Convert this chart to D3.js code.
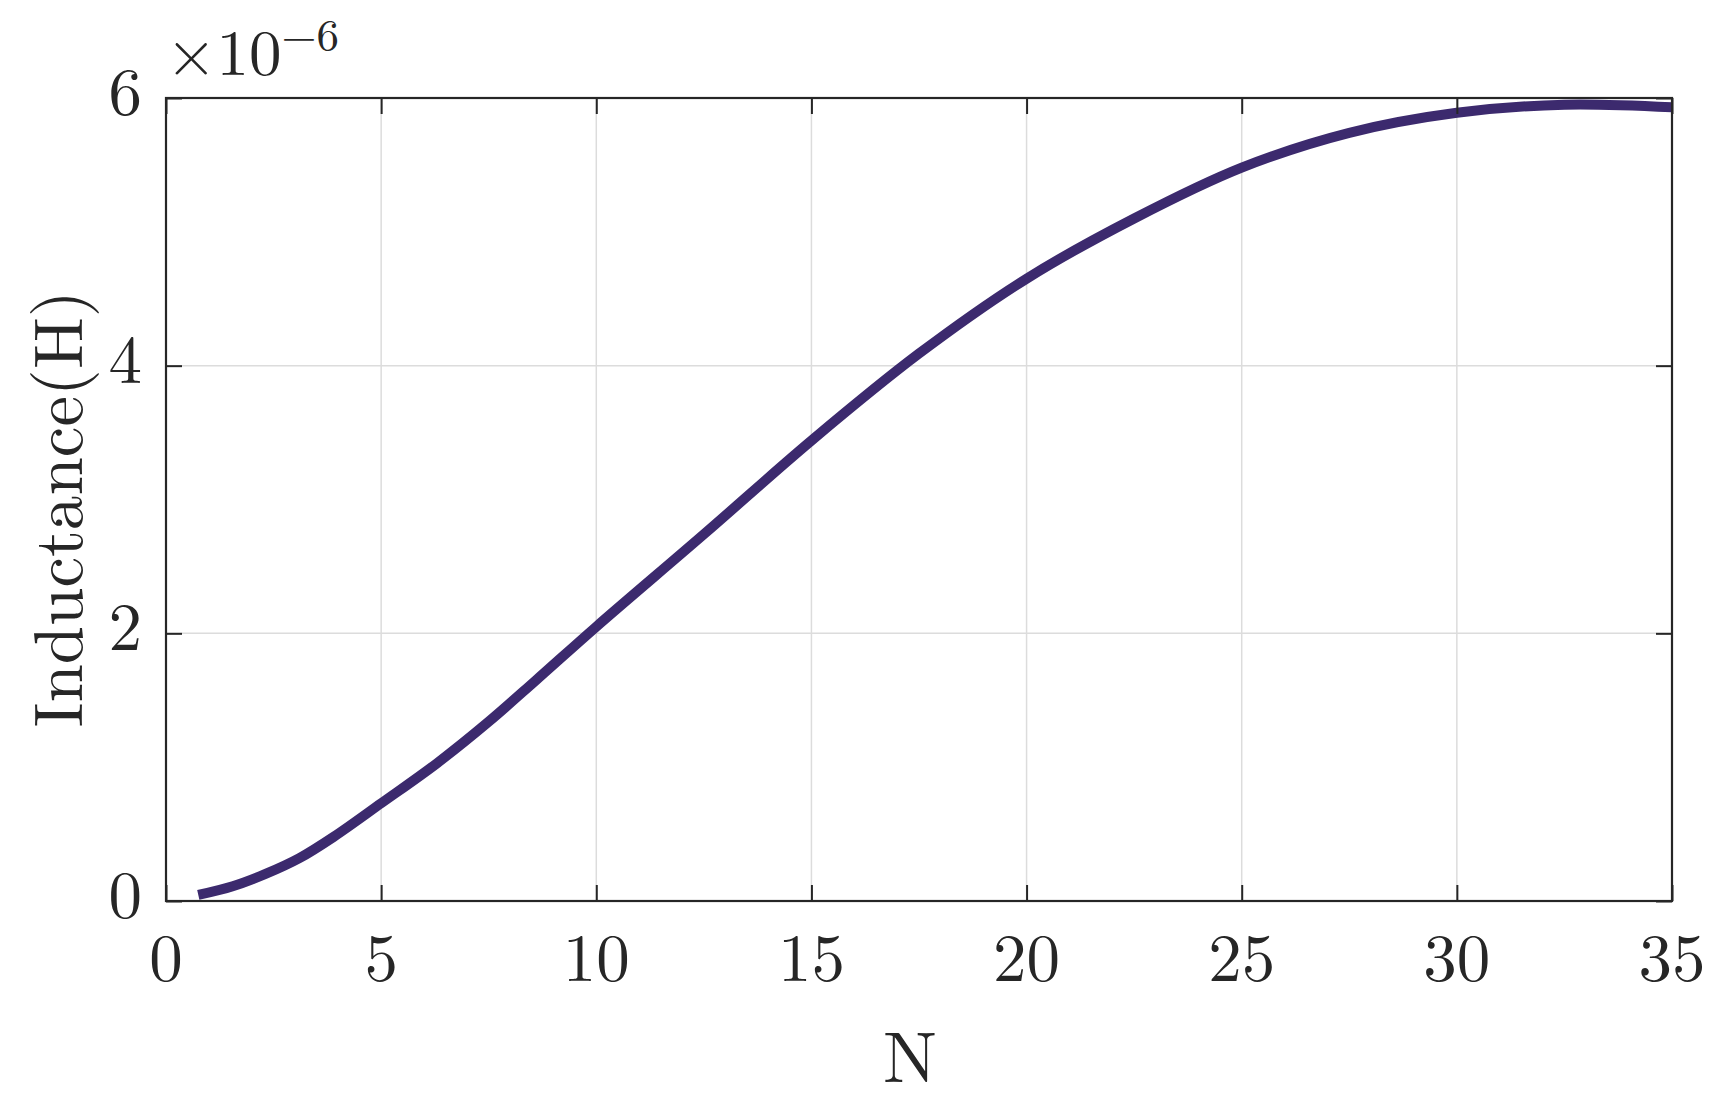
<!DOCTYPE html>
<html>
<head>
<meta charset="utf-8">
<script src="https://cdn.jsdelivr.net/npm/d3@7"></script>
<style>
  html, body { margin: 0; padding: 0; background: #fff; }
  svg text { font-family: "Latin Modern Roman", "CMU Serif", "Liberation Serif", serif; fill: #262626; }
</style>
</head>
<body>
<div id="chart"></div>
<script>
const width = 1731,
      height = 1111;

const margin = { top: 98, right: 59, bottom: 210, left: 166 };

// turns N and inductance (in units of 1e-6 H)
const turns = [0.75, 1.55, 2.3, 3.1, 3.9, 5, 6.3, 7.5, 8.6, 10, 12.5, 15, 17.5,
               20, 22.5, 25, 27.5, 30, 32.5, 35];
const inductance = [0.045, 0.11, 0.20, 0.32, 0.48, 0.73, 1.03, 1.34, 1.65, 2.05, 2.74, 3.44, 4.09,
                    4.65, 5.10, 5.48, 5.74, 5.89, 5.95, 5.93];

const xTicks = [0, 5, 10, 15, 20, 25, 30, 35];
const yTicks = [0, 2, 4, 6];

const innerW = width - margin.left - margin.right,
      innerH = height - margin.top - margin.bottom;

const svg = d3.select('#chart')
              .append('svg')
              .attr('width', width)
              .attr('height', height);

const g = svg.append('g')
             .attr('transform', `translate(${margin.left},${margin.top})`);

const x = d3.scaleLinear().domain([0, 35]).range([0, innerW]);
const y = d3.scaleLinear().domain([0, 6]).range([innerH, 0]);

// grid
g.append('g')
 .selectAll('line')
 .data(xTicks.slice(1, -1))
 .join('line')
 .attr('x1', d => x(d)).attr('x2', d => x(d))
 .attr('y1', 0).attr('y2', innerH)
 .attr('stroke', '#dcdcdc')
 .attr('stroke-width', 1.5);

g.append('g')
 .selectAll('line')
 .data(yTicks.slice(1, -1))
 .join('line')
 .attr('x1', 0).attr('x2', innerW)
 .attr('y1', d => y(d)).attr('y2', d => y(d))
 .attr('stroke', '#dcdcdc')
 .attr('stroke-width', 1.5);

// the curve
const data = turns.map((n, i) => [n, inductance[i]]);

const line = d3.line()
               .x(d => x(d[0]))
               .y(d => y(d[1]))
               .curve(d3.curveCatmullRom.alpha(0.5));

g.append('path')
 .datum(data)
 .attr('d', line)
 .attr('fill', 'none')
 .attr('stroke', '#3c2a6e')
 .attr('stroke-width', 10)
 .attr('stroke-linejoin', 'round');

// axes, ticks pointing inward on all four sides
const tickLen = 16;
const axisColor = '#262626';

function styleAxis(sel) {
  sel.select('.domain').remove();
  sel.selectAll('.tick line').attr('stroke', axisColor).attr('stroke-width', 2);
  sel.selectAll('.tick text').remove();
}

g.append('g')
 .attr('transform', `translate(0,${innerH})`)
 .call(d3.axisBottom(x).tickValues(xTicks).tickSize(-tickLen))
 .call(styleAxis);

g.append('g')
 .call(d3.axisTop(x).tickValues(xTicks).tickSize(-tickLen))
 .call(styleAxis);

g.append('g')
 .call(d3.axisLeft(y).tickValues(yTicks).tickSize(-tickLen))
 .call(styleAxis);

g.append('g')
 .attr('transform', `translate(${innerW},0)`)
 .call(d3.axisRight(y).tickValues(yTicks).tickSize(-tickLen))
 .call(styleAxis);

g.append('rect')
 .attr('width', innerW)
 .attr('height', innerH)
 .attr('fill', 'none')
 .attr('stroke', axisColor)
 .attr('stroke-width', 2.2);

// tick labels
g.append('g')
 .selectAll('text')
 .data(xTicks)
 .join('text')
 .attr('x', d => x(d))
 .attr('y', innerH + 80)
 .attr('text-anchor', 'middle')
 .attr('font-size', 67)
 .text(d => d);

g.append('g')
 .selectAll('text')
 .data(yTicks)
 .join('text')
 .attr('x', -24)
 .attr('y', d => y(d) + 17)
 .attr('text-anchor', 'end')
 .attr('font-size', 67)
 .text(d => d);

// exponent
const expo = svg.append('text')
                .attr('x', 166)
                .attr('y', 75)
                .attr('font-size', 65);
expo.append('tspan').text('\u00d710');
expo.append('tspan')
    .attr('dy', -24)
    .attr('font-size', 45)
    .text('\u22126');

// axis titles
svg.append('text')
   .attr('x', margin.left + innerW / 2 - 9)
   .attr('y', 1082)
   .attr('text-anchor', 'middle')
   .attr('font-size', 72)
   .text('N');

svg.append('text')
   .attr('transform', 'rotate(-90)')
   .attr('x', -509)
   .attr('y', 82)
   .attr('text-anchor', 'middle')
   .attr('font-size', 69)
   .text('Inductance(H)');
</script>
</body>
</html>
